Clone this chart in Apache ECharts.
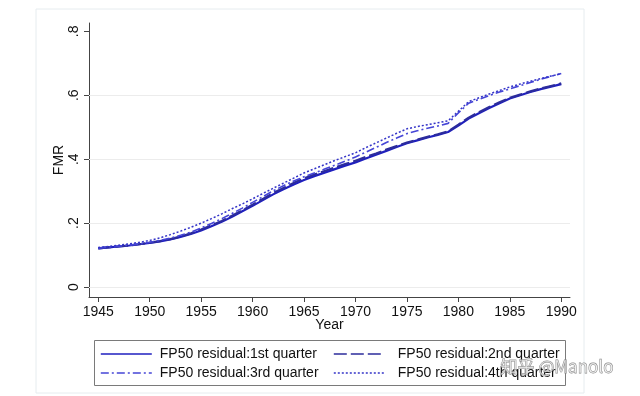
<!DOCTYPE html>
<html>
<head>
<meta charset="utf-8">
<script src="https://cdn.jsdelivr.net/npm/echarts@6/dist/echarts.min.js"></script>
<style>
  html, body { margin: 0; padding: 0; background: #ffffff; }
  #chart { width: 640px; height: 396px; }
</style>
</head>
<body>
<div id="chart"></div>
<script>
// ---- data ----
const years = [1945,1946,1947,1948,1949,1950,1951,1952,1953,1954,1955,1956,1957,1958,1959,1960,1961,1962,1963,1964,1965,1966,1967,1968,1969,1970,1971,1972,1973,1974,1975,1976,1977,1978,1979,1980,1981,1982,1983,1984,1985,1986,1987,1988,1989,1990];
const q1 = [.121,.124,.127,.130,.134,.138,.143,.149,.157,.166,.177,.190,.204,.220,.237,.254,.272,.290,.306,.321,.335,.347,.358,.369,.380,.390,.402,.414,.426,.438,.450,.459,.468,.476,.485,.505,.527,.544,.560,.575,.590,.600,.610,.619,.627,.635];
const q2 = [.121,.124,.127,.130,.134,.139,.144,.150,.158,.168,.180,.193,.207,.223,.240,.258,.276,.294,.310,.326,.340,.352,.363,.374,.385,.395,.407,.418,.430,.441,.452,.461,.470,.478,.487,.508,.530,.547,.563,.578,.592,.602,.612,.621,.629,.637];
const q3 = [.122,.125,.128,.131,.135,.140,.146,.153,.162,.172,.185,.199,.214,.230,.247,.265,.283,.301,.317,.332,.345,.357,.369,.381,.394,.407,.422,.437,.452,.466,.480,.489,.497,.504,.512,.545,.575,.587,.599,.610,.620,.630,.640,.650,.659,.668];
const q4 = [.124,.127,.131,.135,.140,.146,.154,.164,.175,.187,.200,.214,.229,.245,.260,.276,.293,.309,.325,.341,.357,.370,.383,.396,.408,.420,.436,.451,.466,.481,.495,.502,.508,.514,.520,.550,.580,.592,.604,.615,.626,.635,.644,.652,.660,.668];
const seriesNames = ['FP50 residual:1st quarter','FP50 residual:2nd quarter','FP50 residual:3rd quarter','FP50 residual:4th quarter'];
const xTicks = [1945,1950,1955,1960,1965,1970,1975,1980,1985,1990];
const yTicks = [0,0.2,0.4,0.6,0.8];
const yTickLabels = ['0','.2','.4','.6','.8'];
const gridValues = [0,0.2,0.4,0.6];

const FONT = '"Liberation Sans", Arial, sans-serif';
const pair = (arr) => years.map((y, i) => [y, arr[i]]);

const styles = [
  { color: '#1f1fbf', width: 2.2, type: 'solid' },
  { color: '#2c2c9c', width: 2.2, type: [13, 4] },
  { color: '#4545d6', width: 1.6, type: [8, 3, 2, 3] },
  { color: '#3434c8', width: 1.5, type: [2, 2] }
];
const dataSets = [q1, q2, q3, q4];

const series = dataSets.map((d, i) => ({
  name: seriesNames[i],
  type: 'line',
  data: pair(d),
  showSymbol: false,
  symbol: 'none',
  smooth: false,
  lineStyle: { color: styles[i].color, width: styles[i].width, type: styles[i].type },
  itemStyle: { color: styles[i].color },
  z: 3 + i
}));
series[0].markLine = {
  silent: true,
  symbol: ['none', 'none'],
  label: { show: false },
  lineStyle: { color: '#ececec', width: 1, type: 'solid' },
  z: 1,
  data: gridValues.map(v => ({ yAxis: v }))
};

const legendItem = (i) => ({
  name: seriesNames[i],
  itemStyle: { color: styles[i].color, opacity: 0 },
  lineStyle: { color: styles[i].color, width: Math.min(styles[i].width, 1.6), type: styles[i].type }
});
const legendBase = {
  show: true,
  orient: 'vertical',
  top: 347,
  padding: 0,
  itemGap: 5,
  itemWidth: 51,
  itemHeight: 14
};

const chart = echarts.init(document.getElementById('chart'), null, { renderer: 'canvas' });
chart.setOption({
  animation: false,
  backgroundColor: '#ffffff',
  grid: { left: 89, right: 70, top: 23, bottom: 99, containLabel: false },
  xAxis: {
    type: 'value',
    min: 1944.1,
    max: 1990.85,
    name: 'Year',
    nameLocation: 'middle',
    nameGap: 21,
    nameMoveOverlap: false,
    nameTextStyle: { fontFamily: FONT, fontSize: 14, color: '#111' },
    axisLine: { show: true, onZero: false, lineStyle: { color: '#444', width: 1 } },
    axisTick: { show: true, length: 5, lineStyle: { color: '#444' }, customValues: xTicks },
    axisLabel: {
      fontFamily: FONT, fontSize: 14, color: '#111', margin: 8, customValues: xTicks,
      formatter: (v) => String(Math.round(v))
    },
    splitLine: { show: false }
  },
  yAxis: {
    type: 'value',
    min: -0.031,
    max: 0.826,
    name: 'FMR',
    nameLocation: 'middle',
    nameRotate: 90,
    nameGap: 23,
    nameMoveOverlap: false,
    nameTextStyle: { fontFamily: FONT, fontSize: 14, color: '#111' },
    axisLine: { show: true, onZero: false, lineStyle: { color: '#444', width: 1 } },
    axisTick: { show: true, length: 5, lineStyle: { color: '#444' }, customValues: yTicks },
    axisLabel: {
      fontFamily: FONT, fontSize: 14, color: '#111', margin: 8, rotate: 90,
      customValues: yTicks,
      formatter: (v) => {
        const idx = yTicks.findIndex(t => Math.abs(t - v) < 1e-9);
        return idx >= 0 ? yTickLabels[idx] : '';
      }
    },
    splitLine: { show: false }
  },
  legend: [
    Object.assign({}, legendBase, {
      left: 100,
      data: [legendItem(0), legendItem(2)],
      textStyle: { fontFamily: FONT, fontSize: 14, color: '#111', padding: [0, 0, 0, 3] }
    }),
    Object.assign({}, legendBase, {
      left: 333,
      data: [legendItem(1), legendItem(3)],
      textStyle: { fontFamily: FONT, fontSize: 14, color: '#111', padding: [0, 0, 0, 8] }
    })
  ],
  graphic: [
    {
      type: 'rect',
      silent: true,
      z: -10,
      shape: { x: 36, y: 9, width: 548, height: 384 },
      style: { fill: 'none', stroke: '#e6ecef', lineWidth: 1 }
    },
    {
      type: 'rect',
      silent: true,
      z: 0,
      shape: { x: 94.5, y: 340.5, width: 471, height: 45 },
      style: { fill: 'none', stroke: '#7a7a7a', lineWidth: 1 }
    },
    {
      type: 'text',
      silent: true,
      z: 50,
      left: 500,
      top: 358,
      style: {
        text: '知乎 @Manolo',
        font: '17px "Noto Sans CJK SC", "Liberation Sans", sans-serif',
        fill: 'rgba(255,255,255,0.5)',
        stroke: '#8a8a8a',
        lineWidth: 0.8
      }
    }
  ],
  series: series
});
</script>
</body>
</html>
